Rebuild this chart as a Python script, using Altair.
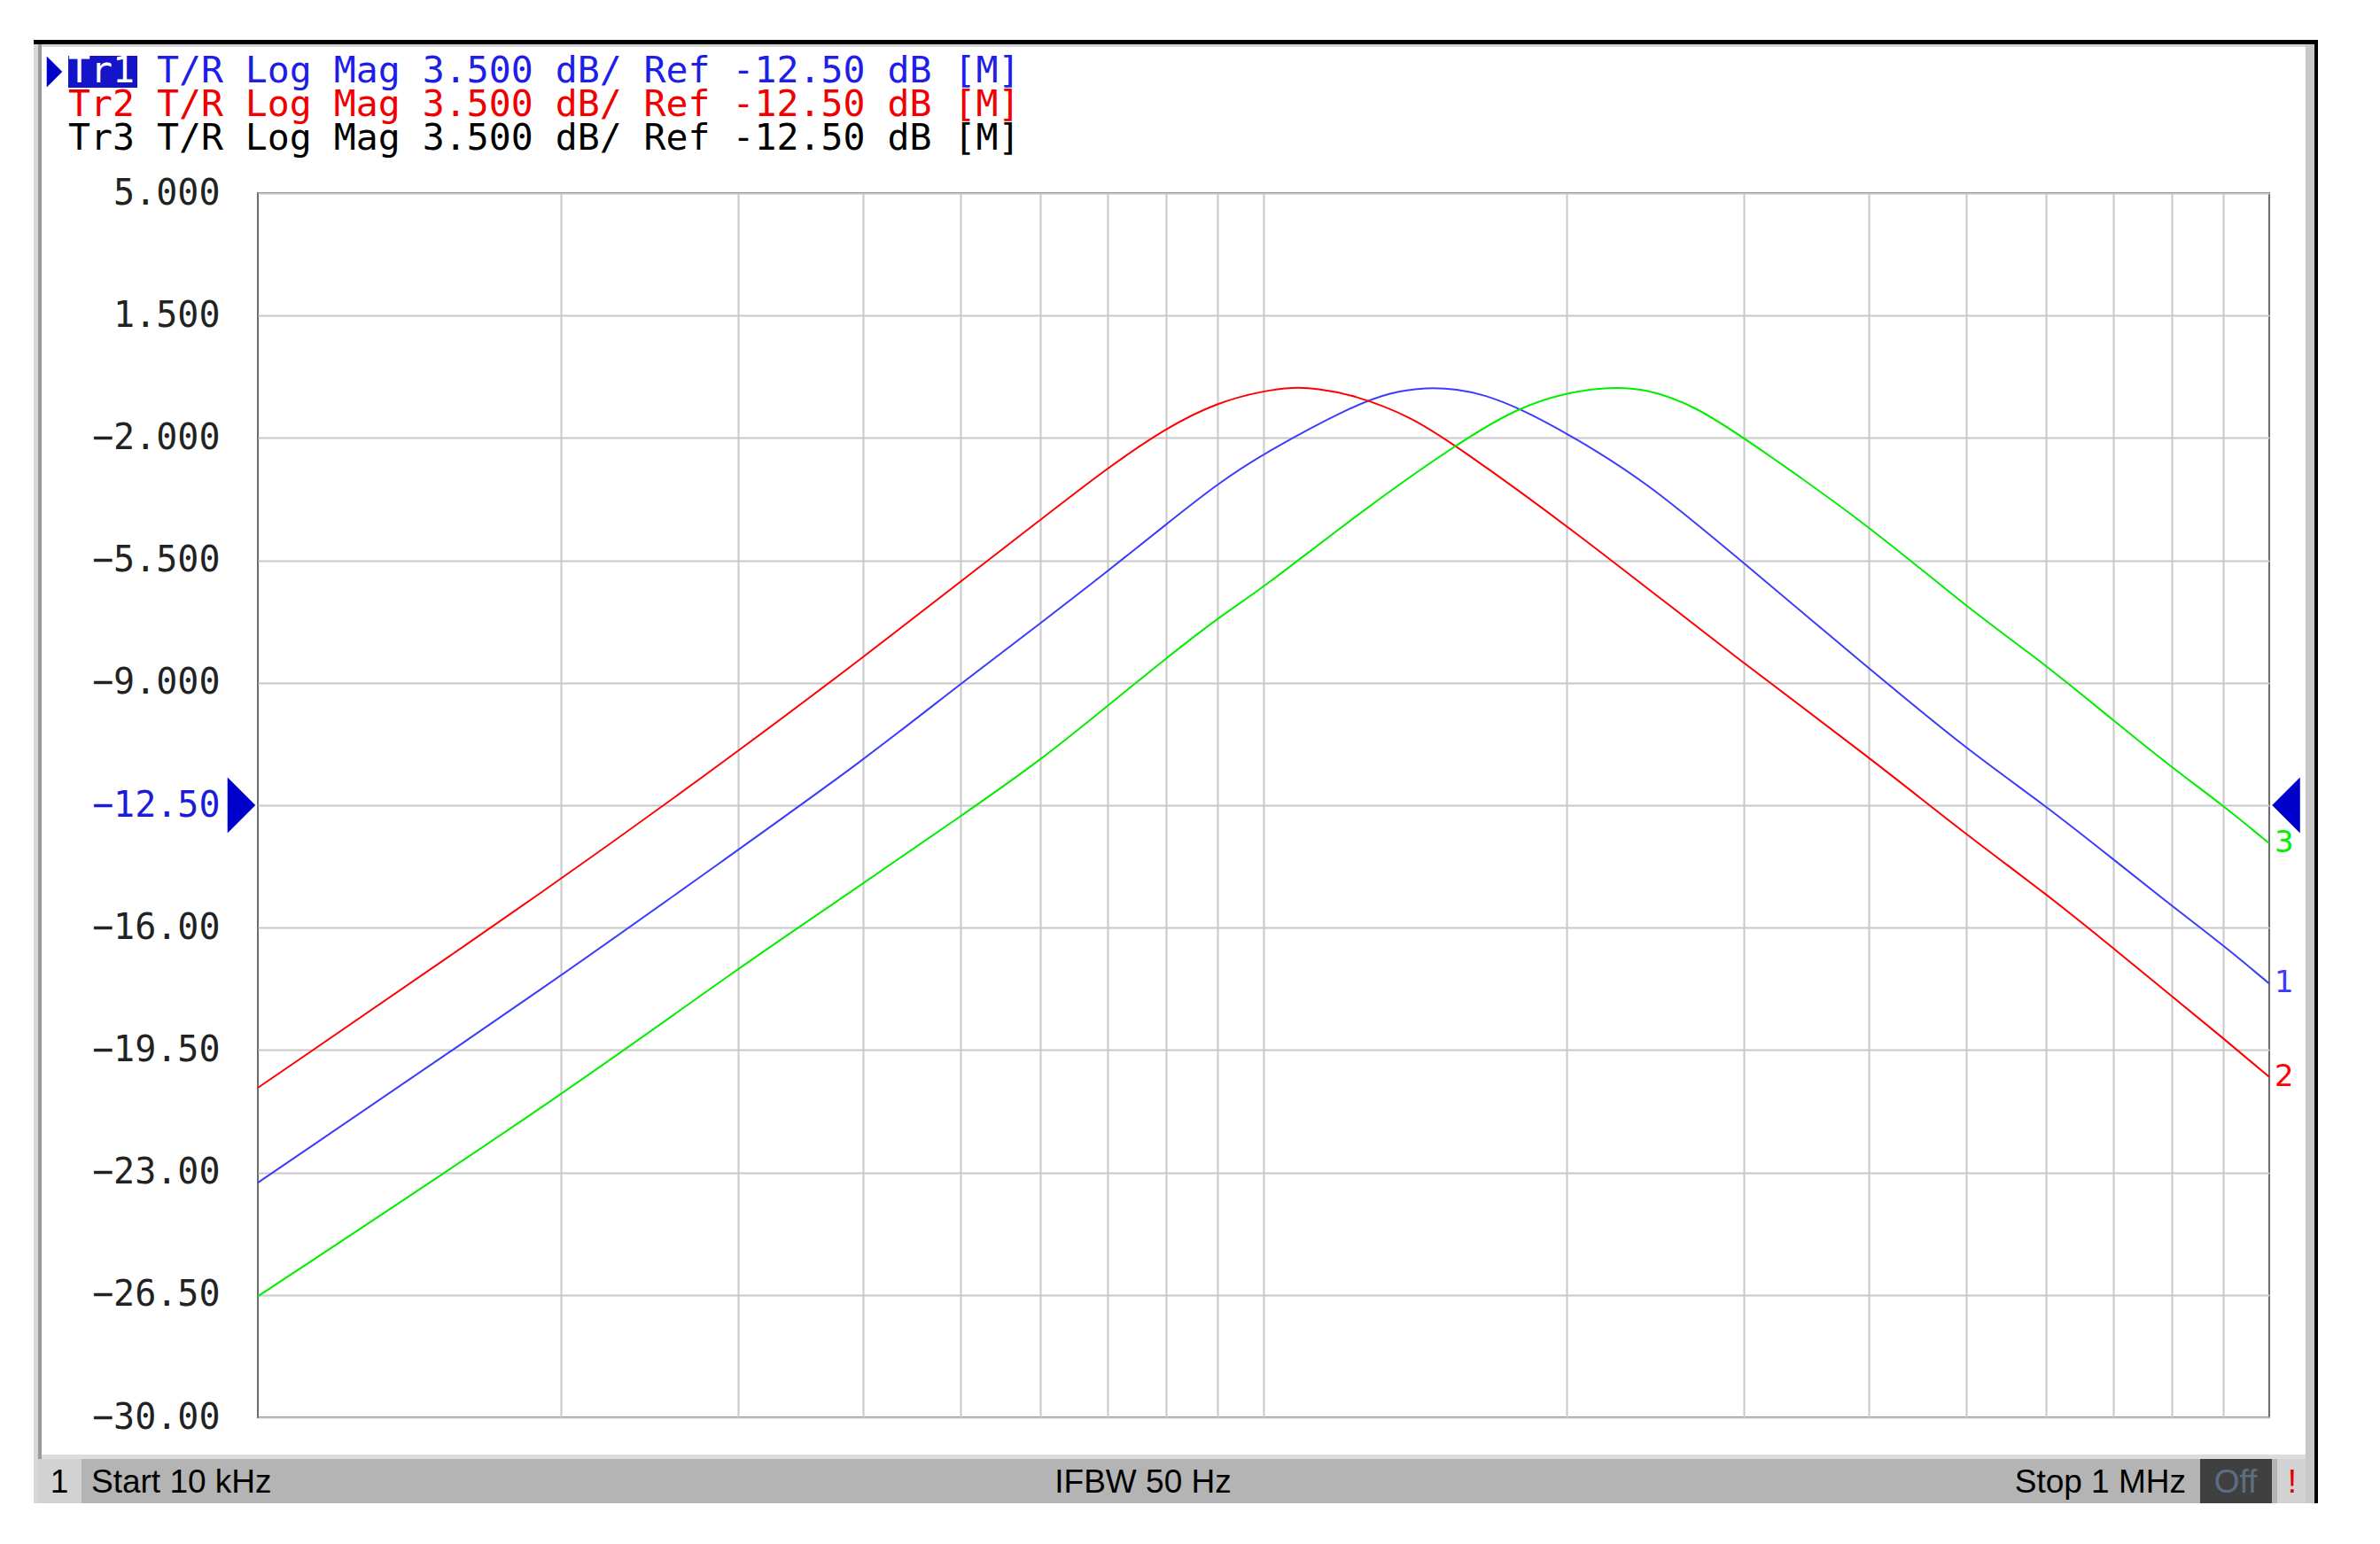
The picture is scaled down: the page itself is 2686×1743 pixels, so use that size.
import altair as alt
import pandas as pd

X_DOMAIN = [10000, 1000000]          # Start 10 kHz, Stop 1 MHz (log sweep)
Y_DOMAIN = [-30.0, 5.0]
REF_LEVEL = -12.5

X_GRID = [20000, 30000, 40000, 50000, 60000, 70000, 80000, 90000,
          100000, 200000, 300000, 400000, 500000, 600000, 700000, 800000, 900000]
Y_TICKS = [5.0, 1.5, -2.0, -5.5, -9.0, -12.5, -16.0, -19.5, -23.0, -26.5, -30.0]
Y_LABELS = ["5.000", "1.500", "\u22122.000", "\u22125.500", "\u22129.000", "\u221212.50",
            "\u221216.00", "\u221219.50", "\u221223.00", "\u221226.50", "\u221230.00"]

TR1_FREQ = [10000, 20000, 30000, 40000, 50000, 60000, 70000, 80000, 90000, 100000,
            123000, 134000, 145000, 156000, 166000, 179000, 200000, 240000, 300000,
            400000, 500000, 600000, 700000, 800000, 900000, 1000000]
TR1_DB = [-23.29, -17.41, -13.78, -11.22, -9.02, -7.30, -5.81, -4.47, -3.31, -2.44,
          -1.06, -0.69, -0.55, -0.60, -0.77, -1.13, -1.85, -3.23, -5.57,
          -8.59, -10.90, -12.52, -14.05, -15.38, -16.50, -17.60]

TR2_FREQ = [10000, 20000, 30000, 40000, 50000, 60000, 70000, 80000, 90000, 100000,
            107000, 113000, 123000, 140000, 155000, 200000, 300000, 400000, 500000,
            600000, 700000, 800000, 900000, 1000000]
TR2_DB = [-20.58, -14.65, -10.97, -8.27, -6.10, -4.34, -2.85, -1.71, -0.98, -0.65,
          -0.55, -0.58, -0.77, -1.38, -2.20, -4.47, -8.45, -11.12, -13.35,
          -15.03, -16.59, -17.96, -19.16, -20.27]

TR3_FREQ = [10000, 20000, 30000, 40000, 50000, 60000, 70000, 80000, 90000, 100000,
            123000, 155000, 179000, 200000, 220000, 240000, 269000, 300000, 400000,
            500000, 600000, 700000, 800000, 900000, 1000000]
TR3_DB = [-26.54, -20.83, -17.16, -14.74, -12.81, -11.22, -9.65, -8.30, -7.15, -6.28,
          -4.25, -2.20, -1.13, -0.70, -0.55, -0.58, -1.10, -1.98, -4.50,
          -6.84, -8.49, -10.08, -11.42, -12.51, -13.59]

TRACES = ["Tr1", "Tr2", "Tr3"]
TRACE_COLORS = ["#3c3cff", "#ff0000", "#00ee00"]
END_LABELS = ["1", "2", "3"]

HEADER_LINES = [
    ("Tr1", "T/R Log Mag 3.500 dB/ Ref -12.50 dB [M]", "#1e1ee6"),
    ("Tr2", "T/R Log Mag 3.500 dB/ Ref -12.50 dB [M]", "#f00000"),
    ("Tr3", "T/R Log Mag 3.500 dB/ Ref -12.50 dB [M]", "#000000"),
]
STATUS_CHANNEL = "1"
STATUS_START = "Start 10 kHz"
STATUS_IFBW = "IFBW 50 Hz"
STATUS_STOP = "Stop 1 MHz"
STATUS_OFF = "Off"
STATUS_WARN = "!"

# ---------------- tables ----------------
rows = []
for name, fr, db in [("Tr1", TR1_FREQ, TR1_DB), ("Tr2", TR2_FREQ, TR2_DB), ("Tr3", TR3_FREQ, TR3_DB)]:
    for f, d in zip(fr, db):
        rows.append({"freq": f, "db": d, "trace": name})
df = pd.DataFrame(rows)

ends = pd.DataFrame({
    "trace": TRACES,
    "db": [TR1_DB[-1], TR2_DB[-1], TR3_DB[-1]],
    "label": END_LABELS,
})

W, H = 2270, 1382
MONO = "DejaVu Sans Mono"
SANS = "Liberation Sans"
ONE = alt.Data(values=[{"k": 0}])

color_scale = alt.Scale(domain=TRACES, range=TRACE_COLORS)
Y_SCALE = alt.Scale(domain=Y_DOMAIN, nice=False, zero=False)

label_expr = "".join(f"datum.value == {v} ? '{l}' : " for v, l in zip(Y_TICKS, Y_LABELS)) + "''"


def y_axis():
    return alt.Axis(values=Y_TICKS, grid=True, gridColor="#c8c8c8", gridWidth=2,
                    ticks=False, domain=False, title=None,
                    labelExpr=label_expr, labelFont=MONO, labelFontSize=40,
                    labelPadding=43,
                    labelColor={"condition": {"test": f"datum.value == {REF_LEVEL}",
                                              "value": "#1c1cd8"},
                                "value": "#222222"})


def rect(x1, x2, y1, y2, color):
    return alt.Chart(ONE).mark_rect(color=color, opacity=1).encode(
        x=alt.value(x1), x2=alt.value(x2), y=alt.value(y1), y2=alt.value(y2))


def text(txt, x, y, color, font=MONO, size=40, align="left"):
    return alt.Chart(ONE).mark_text(
        text=txt, align=align, baseline="middle", font=font, fontSize=size, color=color
    ).encode(x=alt.value(x), y=alt.value(y))


layers = []

# ---------------- main traces (first layer: owns the axes) ----------------
lines = alt.Chart(df).mark_line(strokeWidth=2, interpolate="basis").encode(
    x=alt.X("freq:Q",
            scale=alt.Scale(type="log", domain=X_DOMAIN, nice=False),
            axis=alt.Axis(values=X_GRID, grid=True, gridColor="#c8c8c8", gridWidth=2,
                          labels=False, ticks=False, domain=False, title=None)),
    y=alt.Y("db:Q", scale=Y_SCALE, axis=y_axis()),
    color=alt.Color("trace:N", scale=color_scale, legend=None),
    detail="trace:N",
)
layers.append(lines)

# ---------------- frame / window chrome ----------------
layers.append(rect(-253, 2325, -173, -168, "#000000"))          # top black edge
layers.append(rect(-253, 2321, -168, -165, "#d4d4d4"))
layers.append(rect(-253, -248, -168, 1479, "#d8d8d8"))           # left border
layers.append(rect(-248, -244, -168, 1479, "#9a9a9a"))
layers.append(rect(2311, 2321, -168, 1479, "#c8c8c8"))           # right border
layers.append(rect(2321, 2325, -173, 1479, "#000000"))
layers.append(rect(-244, 2311, 1424, 1429, "#dcdcdc"))           # status bar
layers.append(rect(-244, 2311, 1429, 1479, "#b4b4b4"))
layers.append(rect(-249, -199, 1429, 1479, "#d2d2d2"))
layers.append(rect(2192, 2273, 1429, 1479, "#404040"))
layers.append(rect(2279, 2311, 1429, 1479, "#d2d2d2"))

layers.append(text(STATUS_CHANNEL, -224, 1456, "#000000", SANS, 37, "center"))
layers.append(text(STATUS_START, -188, 1456, "#000000", SANS, 37))
layers.append(text(STATUS_IFBW, 999, 1456, "#000000", SANS, 37, "center"))
layers.append(text(STATUS_STOP, 2176, 1456, "#000000", SANS, 37, "right"))
layers.append(text(STATUS_OFF, 2232, 1456, "#5c6e80", SANS, 37, "center"))
layers.append(text(STATUS_WARN, 2296, 1456, "#e00000", SANS, 37, "center"))

# ---------------- header ----------------
HF = 41.5
CW = 0.602 * HF
layers.append(rect(-214, -136, -155, -119, "#1414c8"))
layers.append(alt.Chart(ONE).mark_point(
    shape="M -0.5 -1 L 0.5 0 L -0.5 1 Z", filled=True, size=1225, color="#0000cc", opacity=1
).encode(x=alt.value(-229.5), y=alt.value(-137)))
for i, (tr, rest, col) in enumerate(HEADER_LINES):
    yy = -137 + i * 38
    layers.append(text(tr, -214, yy, "#ffffff" if i == 0 else col, MONO, HF))
    layers.append(text(rest, -214 + 4 * CW, yy, col, MONO, HF))

# ---------------- trace end labels and reference markers ----------------
end_text = alt.Chart(ends).mark_text(
    align="left", baseline="middle", font="DejaVu Sans", fontSize=34
).encode(
    x=alt.value(2276),
    y=alt.Y("db:Q", scale=Y_SCALE, axis=y_axis()),
    text="label:N",
    color=alt.Color("trace:N", scale=color_scale, legend=None),
)
layers.append(end_text)

ref_df = alt.Data(values=[{"db": REF_LEVEL}])
layers.append(alt.Chart(ref_df).mark_point(
    shape="M -0.5 -1 L 0.5 0 L -0.5 1 Z", filled=True, size=3969, color="#0000cc", opacity=1
).encode(x=alt.value(-18.5), y=alt.Y("db:Q", scale=Y_SCALE, axis=y_axis())))
layers.append(alt.Chart(ref_df).mark_point(
    shape="M 0.5 -1 L -0.5 0 L 0.5 1 Z", filled=True, size=3969, color="#0000cc", opacity=1
).encode(x=alt.value(2289), y=alt.Y("db:Q", scale=Y_SCALE, axis=y_axis())))

chart = alt.layer(*layers).properties(
    width=W, height=H,
    autosize=alt.AutoSizeParams(type="none"),
    padding={"left": 283, "top": 210, "right": 110, "bottom": 120},
    background="#ffffff",
).configure_view(stroke="#6b6b6b", strokeWidth=2)

chart.save("out.html", embed_options={"renderer": "svg", "actions": False})
